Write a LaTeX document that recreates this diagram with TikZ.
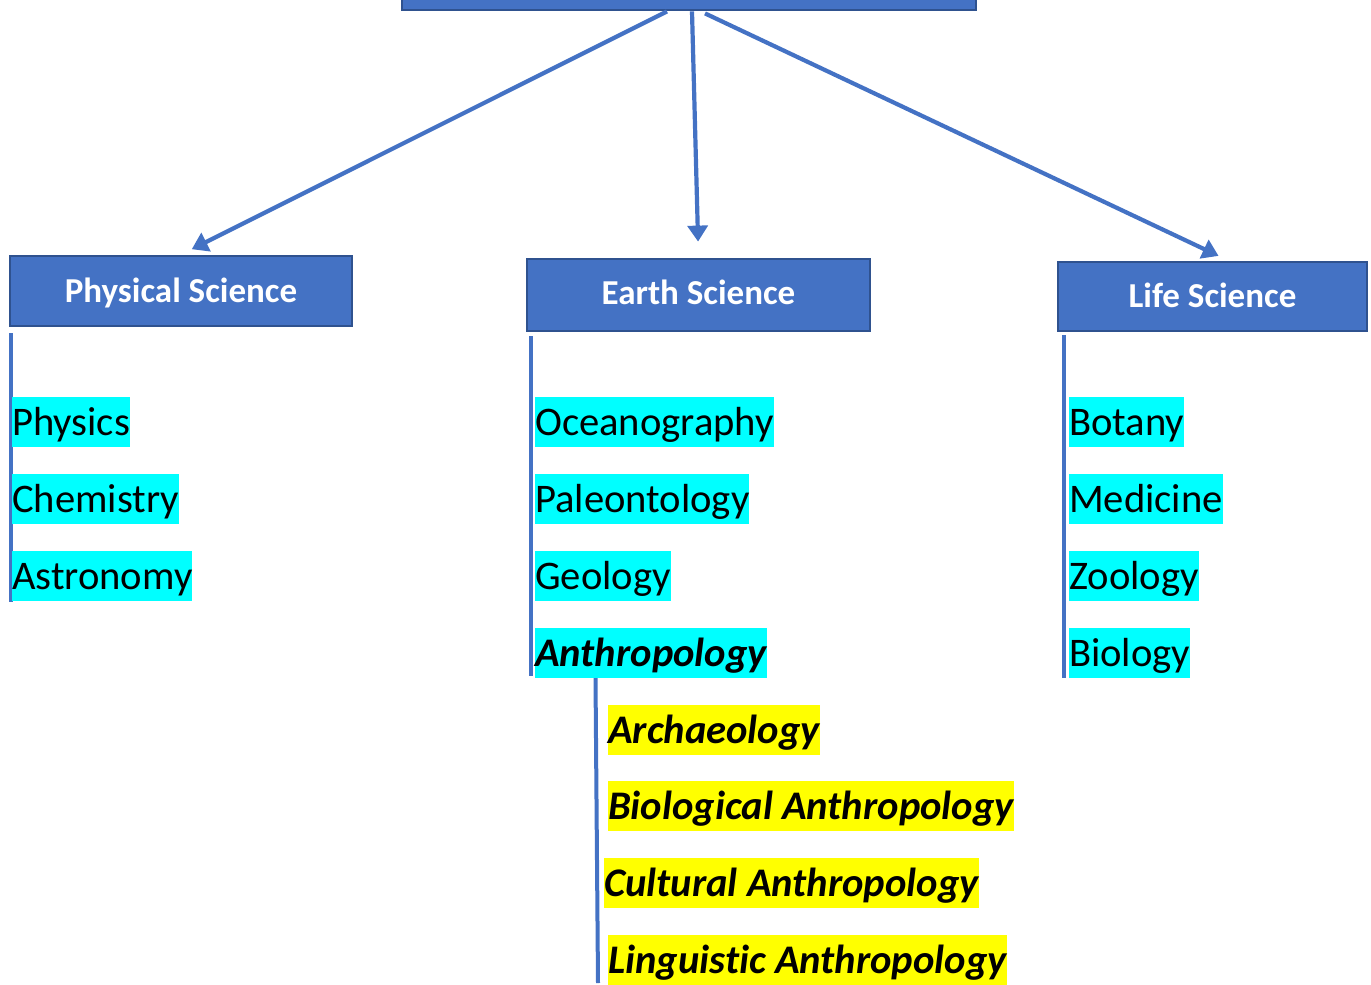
\documentclass[tikz,border=0pt]{standalone}
\usepackage{fontspec}
\setmainfont{Carlito}[Ligatures={NoCommon}]
\usetikzlibrary{arrows.meta}
\definecolor{hdrblue}{HTML}{4472C4}
\definecolor{hdrborder}{HTML}{2F528F}
\definecolor{hlcyan}{HTML}{00FFFF}
\definecolor{hlyellow}{HTML}{FFFF00}
\tikzset{
  hdr/.style={draw=hdrborder, line width=2.8pt, fill=hdrblue, text=white, inner sep=0pt,
    text height=24pt, text depth=1.5pt,
    font=\fontsize{35}{42}\selectfont\bfseries},
  conn/.style={draw=hdrblue, line width=4.2pt, -{Triangle[width=20pt,length=16pt]}},
  vline/.style={draw=hdrblue, line width=4pt},
  item/.style={anchor=west, inner xsep=0pt, inner ysep=0pt, text height=38pt, text depth=12pt,
    font=\fontsize{40.6}{48}\selectfont, fill=hlcyan, text=black},
  subitem/.style={item, fill=hlyellow, font=\fontsize{40.6}{48}\selectfont\bfseries\itshape}
}
\begin{document}
\begin{tikzpicture}[x=1pt,y=-1pt]
\useasboundingbox (0,0) rectangle (1371,985);
\clip (0,0) rectangle (1371,985);
% top box (mostly cut off)
\node[hdr, minimum width=574pt, minimum height=80pt] (top) at (689,-30) {};
% category boxes
\node[hdr, minimum width=342pt, minimum height=70pt] (phys) at (181,291) {Physical Science};
\node[hdr, minimum width=343pt, minimum height=72pt, text depth=5.5pt] (earth) at (698.5,295) {Earth Science};
\node[hdr, minimum width=309pt, minimum height=69pt] (life) at (1212.5,296.5) {Life Science};
% arrows
\draw[conn, shorten >=12pt] ([xshift=-22pt]top.south) -- (phys.north);
\draw[conn, shorten >=16pt] ([xshift=3pt]top.south) -- (earth.north);
\draw[conn, shorten >=11pt] ([xshift=16pt,yshift=-2pt]top.south) -- ([xshift=16pt]life.north);
% vertical lines
\coordinate (p1) at (11,333); \coordinate (p2) at (11,602);
\coordinate (e1) at (531,336); \coordinate (e2) at (531,676);
\coordinate (a1) at (595.5,678); \coordinate (a2) at (598,983);
\coordinate (l1) at (1064,335); \coordinate (l2) at (1064,678);
\draw[vline] (p1) -- (p2);
\draw[vline] (e1) -- (e2);
\draw[vline] (a1) -- (a2);
\draw[vline] (l1) -- (l2);
% physical items
\node[item] (physics) at (12,422) {Physics};
\node[item] (chem) at (12,499) {Chemistry};
\node[item] (astro) at (12,576) {Astronomy};
% earth items
\node[item] (ocean) at (535,422) {Oceanography};
\node[item] (paleo) at (535,499) {Paleontology};
\node[item] (geo) at (535,576) {Geology};
\node[item, font=\fontsize{40.6}{48}\selectfont\bfseries\itshape] (anthro) at (535,653) {Anthropology};
% life items
\node[item] (botany) at (1069,422) {Botany};
\node[item] (med) at (1069,499) {Medicine};
\node[item] (zoo) at (1069,576) {Zoology};
\node[item] (bio) at (1069,653) {Biology};
% anthropology sub-items
\node[subitem] (arch) at (608,730) {Archaeology};
\node[subitem] (bioa) at (608,806) {Biological Anthropology};
\node[subitem] (cult) at (604,883) {Cultural Anthropology};
\node[subitem] (ling) at (608,960) {Linguistic Anthropology};
\end{tikzpicture}
\end{document}
